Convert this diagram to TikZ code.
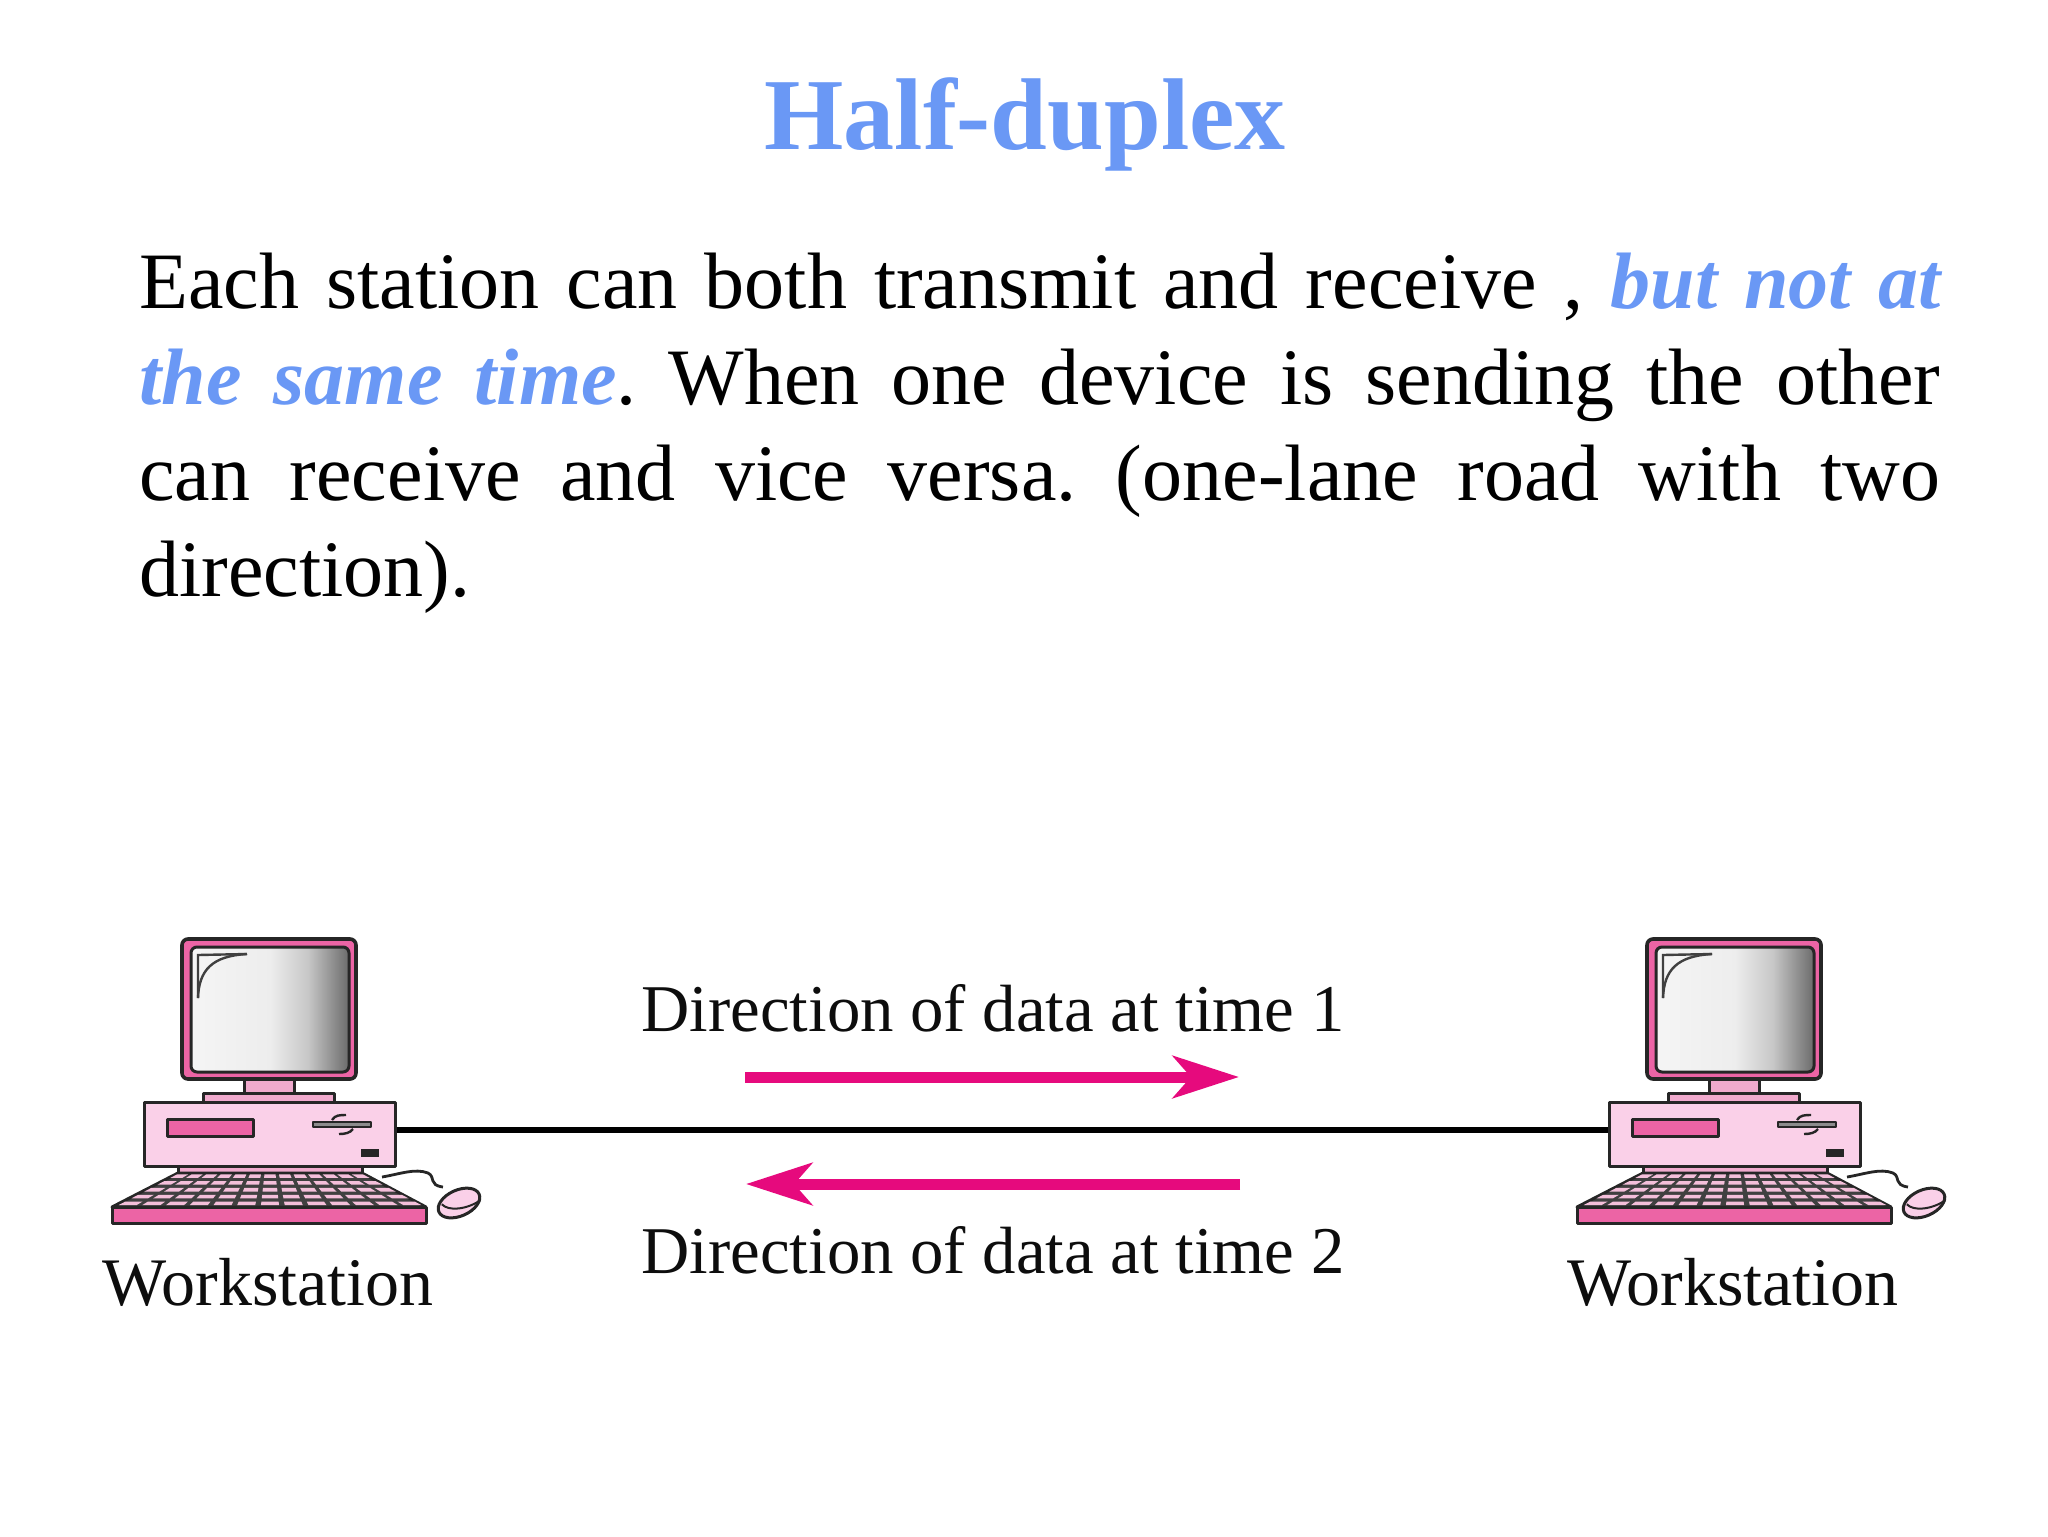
\documentclass[tikz,border=0pt]{standalone}
\usepackage{fontspec}
\setmainfont{Liberation Serif}
\usetikzlibrary{arrows.meta}
\definecolor{headblue}{RGB}{106,152,245}
\definecolor{arrowpink}{RGB}{230,10,125}
\definecolor{palepink}{RGB}{250,208,232}
\definecolor{midpink}{RGB}{236,100,165}
\definecolor{keypink}{RGB}{240,170,205}
\pgfdeclarehorizontalshading{screenshade}{100bp}{color(0bp)=(white!96!black); color(25bp)=(white!96!black); color(50bp)=(white!93!black); color(62bp)=(white!78!black); color(75bp)=(white!42!black); color(100bp)=(white!42!black)}
\tikzset{
  part/.style={draw=black!85,line width=1.5pt,line join=round},
  casebox/.style={part,fill=palepink,inner sep=0pt,minimum width=125.5pt,minimum height=32pt},
  caption/.style={font=\fontsize{33.4}{36}\selectfont,anchor=base,inner sep=0pt,text=black!95},
  wslabel/.style={caption,font=\fontsize{34}{36}\selectfont},
  dataarrow/.style={draw=arrowpink,line width=5.5pt,-{Stealth[length=33pt,width=21pt,inset=9pt]}},
  workstation/.pic={
    % monitor
    \draw[part,line width=1.8pt,fill=midpink,rounded corners=3pt] (182,939) rectangle (356,1079);
    \draw[part,shading=screenshade,rounded corners=3pt] (191,947) rectangle (349,1072);
    \draw[black!75,line width=1.2pt] (198,998) -- (198,955) -- (247,954);
    \draw[black!75,line width=1.2pt] (198,998) .. controls (199,970) and (212,956) .. (247,954);
    % stand
    \draw[part,fill=keypink] (244,1079) rectangle (294,1093);
    \draw[part,fill=keypink] (203,1093) rectangle (334,1102);
    % case
    \draw[part,fill=keypink] (178,1166) rectangle (362,1173);
    \node[casebox] (case) at (269.5,1134) {};
    \draw[part,fill=midpink] (167,1119) rectangle (253,1136);
    \draw[part,line width=.9pt,fill=black!45] (313,1122) rectangle (371,1127);
    \draw[black!85,line width=1.2pt] (332,1120) .. controls (335,1115) and (340,1115) .. (346,1115);
    \draw[black!85,line width=1.2pt] (339,1134) .. controls (345,1134) and (350,1133) .. (353,1129);
    \fill[black!85] (361,1149) rectangle (379,1157);
    % keyboard
    \draw[part,fill=black!75] (178,1173) -- (362,1173) -- (426,1207) -- (112,1207) -- cycle;
    \foreach \r in {0,...,4}
      \foreach \k in {0,...,12}
        \fill[keypink!75!white]
          ({178-66*(\r+.2)/5+(184+132*(\r+.2)/5)*(\k+.12)/13},{1173+34*(\r+.2)/5}) --
          ({178-66*(\r+.2)/5+(184+132*(\r+.2)/5)*(\k+.88)/13},{1173+34*(\r+.2)/5}) --
          ({178-66*(\r+.72)/5+(184+132*(\r+.72)/5)*(\k+.88)/13},{1173+34*(\r+.72)/5}) --
          ({178-66*(\r+.72)/5+(184+132*(\r+.72)/5)*(\k+.12)/13},{1173+34*(\r+.72)/5}) -- cycle;
    \draw[part,fill=midpink] (112,1207) rectangle (426,1223);
    % mouse and its cable
    \draw[black!85,line width=1.4pt] (382,1177) .. controls (400,1174) and (415,1168) .. (428,1173) .. controls (436,1177) and (428,1185) .. (443,1187);
    \draw[part,fill=palepink,rotate around={24:(459,1203)}] (459,1203) ellipse (22 and 13);
    \draw[black!85,line width=1pt,rotate around={24:(459,1201)}] (442,1197) .. controls (445,1206) and (462,1212) .. (479,1209);
  }
}
\begin{document}
\begin{tikzpicture}[x=.5pt,y=-.5pt]
  \useasboundingbox (0,0) rectangle (2048,1536);
  \node[font=\fontsize{51}{56}\selectfont\bfseries,text=headblue,anchor=base,inner sep=0pt] (title) at (1025,149) {Half-duplex};
  \node[anchor=north west,inner sep=0pt,text width=900.5pt,align=justify,font=\frenchspacing\fontsize{40}{48}\selectfont] (body) at (139,253)
    {Each station can both transmit and receive , \textcolor{headblue}{\bfseries\itshape but not at\linebreak
    the same time}. When one device is sending the other\linebreak
    can receive and vice versa. (one-lane road with two\linebreak
    direction).\par};

  \pic (wsa) at (0,0) {workstation};
  \pic (wsb) at (1465,0) {workstation};
  \draw[line width=3.4pt] ([yshift=2pt]wsacase.east) -- ([yshift=2pt]wsbcase.west);

  \node[wslabel] (labela) at (268,1305) {Workstation};
  \node[wslabel] (labelb) at (1733,1305) {Workstation};
  \node[caption] (timea) at (993,1031) {Direction of data at time 1};
  \node[caption] (timeb) at (993,1273) {Direction of data at time 2};

  \coordinate (froma) at (745,1077);
  \coordinate (toa) at (1239,1077);
  \coordinate (fromb) at (1240,1184);
  \coordinate (tob) at (746,1184);
  \draw[dataarrow] (froma) -- (toa);
  \draw[dataarrow] (fromb) -- (tob);
\end{tikzpicture}
\end{document}
